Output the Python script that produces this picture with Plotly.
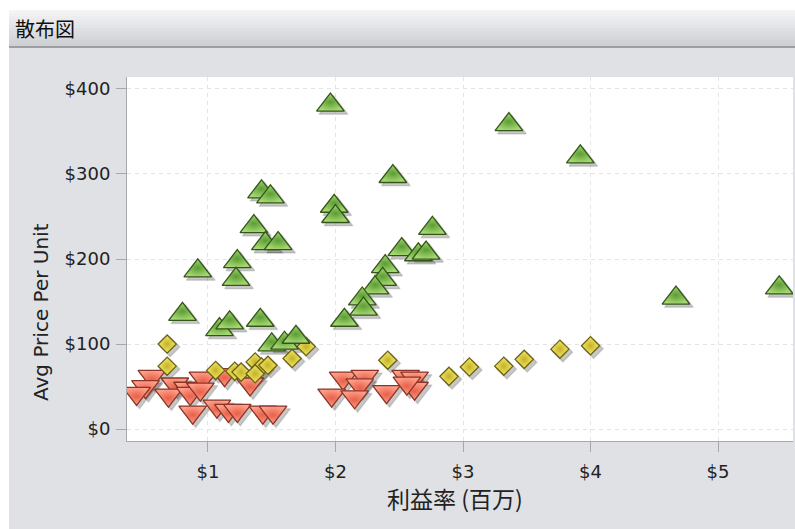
import plotly.graph_objects as go

# ---------------- data ----------------
green_x = [1.96, 3.36, 3.92, 2.45, 1.42, 1.49, 1.99, 2.00, 2.76, 1.36, 1.45, 1.55,
           2.52, 2.65, 2.71, 2.39, 2.37, 2.31, 2.21, 2.22, 2.07, 0.92, 1.23, 1.22,
           0.80, 1.09, 1.17, 1.41, 1.50, 1.60, 1.69, 4.67, 5.48]
green_y = [381, 358, 320, 297, 279, 273, 262, 250, 236, 238, 218, 218,
           211, 205, 207, 191, 176, 166, 153, 141, 128, 186, 197, 176,
           135, 117, 125, 128, 99, 101, 108, 154, 166]

yellow_x = [0.68, 0.68, 1.06, 1.21, 1.26, 1.37, 1.42, 1.47, 1.37, 1.66, 1.77,
            2.41, 2.89, 3.05, 3.32, 3.48, 3.76, 4.00]
yellow_y = [100, 74, 69, 68, 67, 79, 73, 75, 65, 83, 97,
            81, 62, 73, 74, 82, 94, 98]

red_x = [0.56, 0.51, 0.44, 0.74, 0.69, 0.84, 0.86, 0.88, 0.96, 0.94, 1.13, 1.07,
         1.16, 1.23, 1.33, 1.43, 1.51, 2.06, 1.97, 2.23, 2.19, 2.15, 2.40, 2.55,
         2.62, 2.62, 2.56]
red_y = [62, 50, 42, 53, 40, 48, 42, 20, 60, 47, 64, 27,
         22, 22, 53, 20, 20, 60, 40, 62, 52, 38, 44, 62,
         60, 48, 54]

x_ticks = [1, 2, 3, 4, 5]
x_tick_labels = ["$1", "$2", "$3", "$4", "$5"]
y_ticks = [0, 100, 200, 300, 400]
y_tick_labels = ["$0", "$100", "$200", "$300", "$400"]

title_text = "散布図"
x_title = "利益率 (百万)"
y_title = "Avg Price Per Unit"

# ---------------- layout geometry ----------------
W, H = 795, 529
PL, PR, PT, PB = 127, 793, 77, 441          # plot area in pixels
L, T = PL, PT
R, B = W - PR, H - PB
PW, PH = PR - PL, PB - PT
x_range = [0.365, 5.588]
y_range = [-14, 414]

# shadow offset (pixels -> data units)
sdx = 3 * (x_range[1] - x_range[0]) / PW
sdy = 3 * (y_range[1] - y_range[0]) / PH


def px(xr):
    return (xr - PL) / PW


def py(yr):
    return (PB - yr) / PH


FONT = "DejaVu Sans, Noto Sans CJK JP, sans-serif"
CJK = "Noto Sans CJK JP, DejaVu Sans, sans-serif"

fig = go.Figure()

# shadows on the (hidden) primary axes with shifted ranges
for xs, ys, sym, size in [(red_x, red_y, "triangle-down", 24),
                          (yellow_x, yellow_y, "diamond", 14),
                          (green_x, green_y, "triangle-up", 24)]:
    fig.add_trace(go.Scatter(
        x=xs, y=ys, mode="markers", xaxis="x", yaxis="y",
        marker=dict(symbol=sym, size=size + 1, color="rgba(0,0,0,0.22)",
                    line=dict(width=1.5, color="rgba(0,0,0,0.12)")),
        hoverinfo="skip", showlegend=False))

# real markers on the visible overlay axes
fig.add_trace(go.Scatter(
    x=red_x, y=red_y, mode="markers", xaxis="x2", yaxis="y2", name="low",
    marker=dict(symbol="triangle-down", size=24, color="#ff9f8a",
                gradient=dict(type="radial", color="#e8604a"),
                line=dict(width=1.3, color="#8a3526")),
    showlegend=False))
fig.add_trace(go.Scatter(
    x=yellow_x, y=yellow_y, mode="markers", xaxis="x2", yaxis="y2", name="mid",
    marker=dict(symbol="diamond", size=14, color="#f3ea6c",
                gradient=dict(type="radial", color="#c4b126"),
                line=dict(width=1.3, color="#6b6012")),
    showlegend=False))
fig.add_trace(go.Scatter(
    x=green_x, y=green_y, mode="markers", xaxis="x2", yaxis="y2", name="high",
    marker=dict(symbol="triangle-up", size=24, color="#a6d872",
                gradient=dict(type="radial", color="#5c9c34"),
                line=dict(width=1.3, color="#34561b")),
    showlegend=False))

# background shapes
shapes = []
shapes.append(dict(type="rect", xref="paper", yref="paper", layer="below",
                   x0=px(9), x1=px(W + 20), y0=py(H + 5), y1=py(10),
                   fillcolor="#dfe1e5", line=dict(width=0)))
# header gradient bands
top_c = (244, 244, 246)
bot_c = (206, 208, 212)
n = 12
y_top, y_bot = 10, 46
for i in range(n):
    t = i / (n - 1)
    c = tuple(int(round(top_c[k] + (bot_c[k] - top_c[k]) * t)) for k in range(3))
    ya = y_top + (y_bot - y_top) * i / n
    yb = y_top + (y_bot - y_top) * (i + 1) / n
    shapes.append(dict(type="rect", xref="paper", yref="paper", layer="below",
                       x0=px(9), x1=px(W + 20), y0=py(yb + 0.3), y1=py(ya),
                       fillcolor="rgb(%d,%d,%d)" % c, line=dict(width=0)))
shapes.append(dict(type="rect", xref="paper", yref="paper", layer="below",
                   x0=px(9), x1=px(W + 20), y0=py(48), y1=py(46),
                   fillcolor="#9c9ea3", line=dict(width=0)))
# white plot area
shapes.append(dict(type="rect", xref="paper", yref="paper", layer="below",
                   x0=0, x1=1, y0=0, y1=1, fillcolor="#ffffff", line=dict(width=0)))

annotations = [
    dict(text=title_text, xref="paper", yref="paper",
         x=px(13), y=py(28), xanchor="left", yanchor="middle",
         showarrow=False, font=dict(family=CJK, size=20, color="#111111")),
    dict(text=y_title, xref="paper", yref="paper", textangle=-90,
         x=px(41), y=py(312), xanchor="center", yanchor="middle",
         showarrow=False, font=dict(family=FONT, size=20, color="#222222")),
    dict(text=x_title, xref="paper", yref="paper",
         x=px(455), y=py(498), xanchor="center", yanchor="middle",
         showarrow=False, font=dict(family=CJK, size=23, color="#222222")),
]

axis_common = dict(showline=True, linecolor="#a6a8ad", linewidth=1,
                   ticks="outside", ticklen=10, tickcolor="#a6a8ad", tickwidth=1,
                   showgrid=True, gridcolor="#e4e4e4", griddash="4px,4px", gridwidth=1,
                   zeroline=False, tickfont=dict(family=FONT, size=18, color="#222222"),
                   tickmode="array")

fig.update_layout(
    width=W, height=H,
    margin=dict(l=L, r=R, t=T, b=B, pad=0),
    paper_bgcolor="#ffffff", plot_bgcolor="rgba(0,0,0,0)",
    showlegend=False,
    shapes=shapes, annotations=annotations,
    xaxis=dict(range=[x_range[0] - sdx, x_range[1] - sdx], visible=False,
               fixedrange=True),
    yaxis=dict(range=[y_range[0] + sdy, y_range[1] + sdy], visible=False,
               fixedrange=True),
    xaxis2=dict(overlaying="x", range=x_range, side="bottom", anchor="y2",
                tickvals=x_ticks, ticktext=x_tick_labels, ticklabelstandoff=4,
                **axis_common),
    yaxis2=dict(overlaying="y", range=y_range, side="left", anchor="x2",
                tickvals=y_ticks, ticktext=y_tick_labels, ticklabelstandoff=2,
                **axis_common),
)

fig.write_html("out.html",
               config={"displayModeBar": False},
               post_script="document.body.style.margin='0';"
                           "document.body.style.overflow='hidden';")
